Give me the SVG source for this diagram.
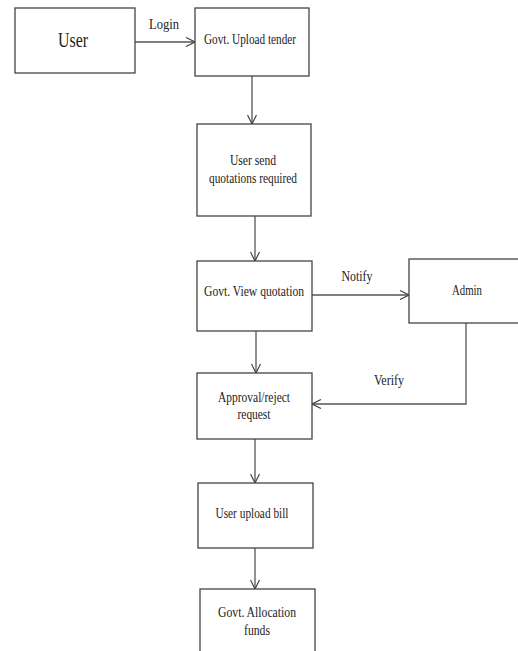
<svg xmlns="http://www.w3.org/2000/svg" width="518" height="651" viewBox="0 0 518 651">
<defs>
<marker id="arr" viewBox="0 0 10 10" refX="10" refY="5" markerWidth="10" markerHeight="10" markerUnits="userSpaceOnUse" orient="auto">
<path d="M1,0.5 L10,5 L1,9.5" fill="none" stroke="#444" stroke-width="1.2"/>
</marker>
<style>
.box{fill:#fff;stroke:#444;stroke-width:1.3}
.ln{fill:none;stroke:#555;stroke-width:1.3;marker-end:url(#arr)}
text{font-family:"Liberation Serif","Times New Roman",serif;font-size:15px;fill:#222;text-anchor:middle}
</style>
</defs>
<rect width="518" height="651" fill="#fff"/>
<g id="connectors">
<path class="ln" d="M135,42 H195"/>
<path class="ln" d="M252,76 V124"/>
<path class="ln" d="M255,216 V261"/>
<path class="ln" d="M312,295 H409"/>
<path class="ln" d="M466,323 V404 H312"/>
<path class="ln" d="M256,331 V373"/>
<path class="ln" d="M255,439 V483"/>
<path class="ln" d="M255,548 V589"/>
<text x="164" y="29" textLength="30" lengthAdjust="spacingAndGlyphs">Login</text>
<text x="357" y="281" textLength="31" lengthAdjust="spacingAndGlyphs">Notify</text>
<text x="389" y="385" textLength="30" lengthAdjust="spacingAndGlyphs">Verify</text>
</g>
<g id="user">
<rect class="box" x="15" y="8" width="120" height="65"/>
<text x="73" y="47" style="font-size:20px" textLength="30" lengthAdjust="spacingAndGlyphs">User</text>
</g>
<g id="upload-tender">
<rect class="box" x="195" y="8" width="114" height="68"/>
<text x="250" y="44" textLength="92" lengthAdjust="spacingAndGlyphs">Govt. Upload tender</text>
</g>
<g id="send-quotations">
<rect class="box" x="197" y="124" width="114" height="92"/>
<text x="253" y="165" textLength="46" lengthAdjust="spacingAndGlyphs">User send</text>
<text x="253" y="183" textLength="88" lengthAdjust="spacingAndGlyphs">quotations required</text>
</g>
<g id="view-quotation">
<rect class="box" x="197" y="261" width="115" height="70"/>
<text x="254" y="296" textLength="100" lengthAdjust="spacingAndGlyphs">Govt. View quotation</text>
</g>
<g id="admin">
<rect class="box" x="409" y="259" width="115" height="64"/>
<text x="467" y="295" textLength="30" lengthAdjust="spacingAndGlyphs">Admin</text>
</g>
<g id="approval">
<rect class="box" x="197" y="373" width="115" height="66"/>
<text x="254" y="402" textLength="72" lengthAdjust="spacingAndGlyphs">Approval/reject</text>
<text x="254" y="419" textLength="33" lengthAdjust="spacingAndGlyphs">request</text>
</g>
<g id="upload-bill">
<rect class="box" x="198" y="483" width="115" height="65"/>
<text x="252" y="518" textLength="73" lengthAdjust="spacingAndGlyphs">User upload bill</text>
</g>
<g id="allocation">
<rect class="box" x="200" y="589" width="115" height="70"/>
<text x="257" y="617" textLength="78" lengthAdjust="spacingAndGlyphs">Govt. Allocation</text>
<text x="257" y="635" textLength="26" lengthAdjust="spacingAndGlyphs">funds</text>
</g>
</svg>
